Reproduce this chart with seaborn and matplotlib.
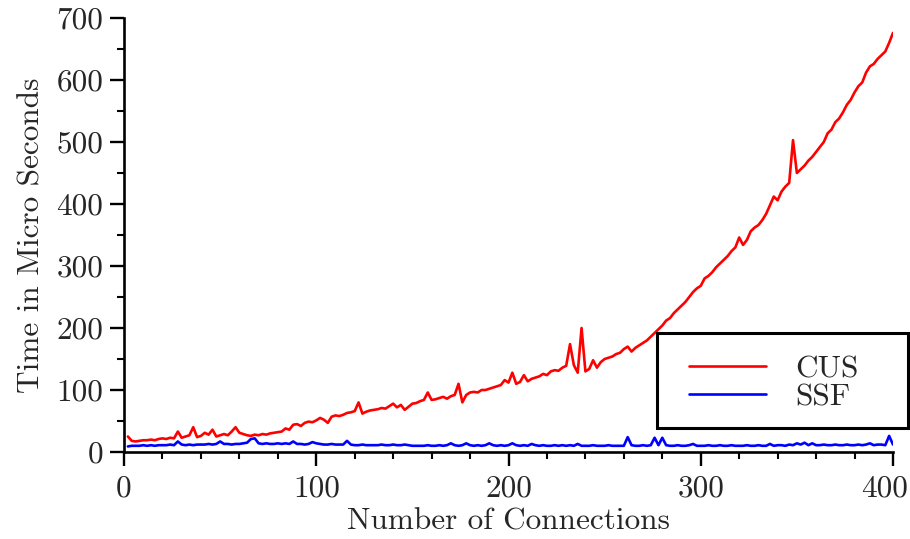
import numpy as np
import pandas as pd
import matplotlib
matplotlib.use("Agg")
import matplotlib.pyplot as plt
import matplotlib.transforms as mtransforms
from matplotlib.patches import Rectangle
from matplotlib.ticker import MultipleLocator
import seaborn as sns

connections = list(range(2, 401, 2))

cus = [
    25, 18, 17, 18, 19,   19, 20, 19, 21, 22,
    21, 23, 22, 33, 23,   25, 27, 40, 24, 26,
    31, 28, 36, 25, 27,   29, 27, 33, 40, 31,
    29, 27, 26, 28, 27,   29, 28, 30, 31, 32,
    33, 38, 36, 44, 45,   42, 47, 49, 48, 51,
    55, 52, 47, 57, 59,   58, 60, 63, 64, 66,
    80, 62, 65, 67, 68,   69, 71, 70, 74, 78,
    72, 76, 68, 73, 78,   79, 82, 84, 96, 84,
    85, 87, 89, 86, 90,   92, 110, 80, 92, 96,
    97, 96, 100, 100, 102,   104, 106, 108, 116, 112,
    128, 110, 113, 124, 114,   118, 120, 122, 126, 124,
    130, 132, 131, 136, 139,   174, 140, 128, 200, 130,
    134, 148, 136, 145, 150,   152, 154, 158, 160, 166,
    170, 162, 168, 172, 176,   180, 186, 192, 198, 204,
    212, 216, 224, 230, 236,   242, 250, 258, 264, 268,
    280, 284, 290, 298, 304,   310, 316, 324, 330, 346,
    334, 342, 356, 362, 366,   374, 384, 398, 412, 406,
    420, 428, 434, 503, 450,   456, 462, 470, 476, 484,
    492, 500, 514, 520, 532,   538, 548, 560, 568, 580,
    590, 596, 612, 622, 626,   634, 640, 646, 660, 676,
]

ssf = [
    9, 10, 10, 10, 11,   10, 11, 10, 11, 11,
    11, 12, 11, 17, 12,   11, 12, 11, 12, 12,
    12, 13, 12, 13, 17,   13, 13, 12, 13, 13,
    14, 15, 21, 22, 14,   13, 14, 13, 13, 14,
    13, 14, 13, 17, 13,   13, 12, 13, 16, 14,
    13, 12, 12, 13, 12,   12, 12, 18, 12, 11,
    11, 12, 11, 11, 11,   11, 12, 11, 11, 12,
    11, 11, 12, 11, 10,   10, 10, 10, 11, 10,
    10, 11, 10, 11, 14,   11, 10, 11, 14, 11,
    10, 11, 10, 11, 14,   11, 10, 11, 10, 11,
    14, 11, 10, 11, 10,   13, 11, 10, 11, 10,
    10, 11, 10, 11, 10,   11, 10, 13, 10, 10,
    10, 11, 10, 10, 10,   11, 10, 10, 10, 10,
    24, 11, 10, 10, 11,   10, 11, 23, 11, 23,
    11, 10, 10, 11, 10,   10, 11, 13, 10, 10,
    10, 11, 10, 10, 11,   10, 10, 11, 10, 10,
    10, 11, 10, 10, 11,   10, 10, 13, 10, 11,
    11, 10, 12, 11, 14,   12, 15, 11, 14, 11,
    11, 12, 11, 11, 12,   11, 11, 12, 11, 11,
    12, 11, 12, 14, 11,   12, 12, 11, 26, 12,
]

series_names = ["CUS", "SSF"]
series_colors = ["#ff0000", "#0000ff"]
x_label = "Number of Connections"
y_label = "Time in Micro Seconds"
x_ticks = [0, 100, 200, 300, 400]
x_tick_labels = ["0", "100", "200", "300", "400"]
y_ticks = [0, 100, 200, 300, 400, 500, 600, 700]
y_tick_labels = ["0", "100", "200", "300", "400", "500", "600", "700"]

df = pd.DataFrame({
    "Connections": connections * 2,
    "Time": cus + ssf,
    "Series": [series_names[0]] * len(cus) + [series_names[1]] * len(ssf),
})

sns.set_style("ticks")
plt.rcParams["font.family"] = ["cmr10", "DejaVu Serif"]
plt.rcParams["mathtext.fontset"] = "cm"
plt.rcParams["axes.formatter.use_mathtext"] = True
plt.rcParams["axes.unicode_minus"] = False

FS = 22.5

fig = plt.figure(figsize=(9.1, 5.39), dpi=100)
ax = fig.add_axes([0.1363, 0.1614, 0.845, 0.8052])

sns.lineplot(data=df, x="Connections", y="Time", hue="Series",
             palette=dict(zip(series_names, series_colors)),
             linewidth=1.9, ax=ax, legend=True)

ax.set_xlim(0, 400)
ax.set_ylim(0, 700)
ax.set_xticks(x_ticks, labels=x_tick_labels)
ax.set_yticks(y_ticks, labels=y_tick_labels)
ax.xaxis.set_minor_locator(MultipleLocator(20))
ax.yaxis.set_minor_locator(MultipleLocator(50))
ax.tick_params(which="major", direction="out", length=10, width=1.7,
               labelsize=FS, color="black")
ax.tick_params(axis="x", which="major", pad=6)
ax.tick_params(axis="y", which="major", pad=5)
ax.tick_params(which="minor", direction="out", length=5, width=1.5, color="black")
for s in ["top", "right"]:
    ax.spines[s].set_visible(False)
for s in ["left", "bottom"]:
    ax.spines[s].set_linewidth(1.9)
    ax.spines[s].set_color("black")

ax.set_xlabel(x_label, fontsize=FS, labelpad=4)
ax.set_ylabel(y_label, fontsize=FS, labelpad=8)

last = ax.get_xticklabels()[-1]
last.set_transform(last.get_transform() +
                   mtransforms.ScaledTranslation(-8 / 100, 0, fig.dpi_scale_trans))

# legend frame
frame = Rectangle((657 / 910, (539 - 428) / 539), 251 / 910, 95 / 539,
                  transform=fig.transFigure, facecolor="white", edgecolor="black",
                  linewidth=2.2, clip_on=False, zorder=4)
ax.add_patch(frame)

handles, labels = ax.get_legend_handles_labels()
leg = ax.legend(handles, labels, loc="upper left",
                bbox_to_anchor=(689.4 / 910, (539 - 355.4) / 539),
                bbox_transform=fig.transFigure,
                fontsize=FS, frameon=False, handlelength=2.45,
                handletextpad=0.95, labelspacing=0.0, borderpad=0,
                borderaxespad=0)
leg.set_zorder(5)
for ln in leg.get_lines():
    ln.set_linewidth(1.9)

fig.savefig("out.png", dpi=100)
